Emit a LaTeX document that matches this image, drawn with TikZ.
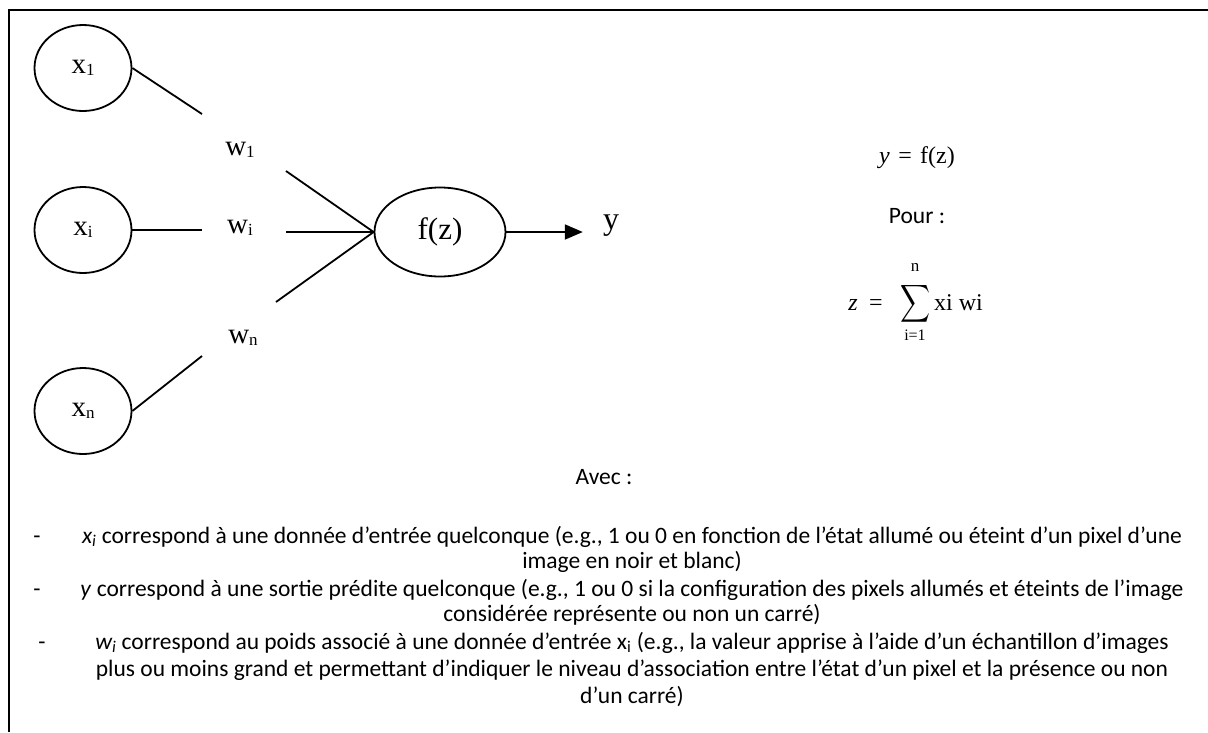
\documentclass[tikz,border=0pt]{standalone}
\usepackage{graphicx}
\usepackage{fontspec}
\setmainfont{Carlito}
\newfontfamily\tms{Liberation Serif}
\usetikzlibrary{shapes.geometric,arrows.meta}

% lowered small index used in the neuron labels
\newcommand\lowidx[1]{\raisebox{-1.5pt}{\fontsize{17}{17}\selectfont #1}}

\begin{document}
\begin{tikzpicture}[x=1pt,y=-1pt,
  neuron/.style={draw,ellipse,line width=1.8pt,inner sep=0pt,
    minimum width=97pt,minimum height=86pt,font=\tms\fontsize{29}{29}\selectfont},
  wire/.style={line width=1.8pt},
  wlabel/.style={inner sep=0pt,font=\tms\fontsize{29}{29}\selectfont},
  eq/.style={inner sep=0pt,anchor=base,font=\tms\fontsize{24}{24}\selectfont},
  body/.style={inner sep=0pt,anchor=base,font=\fontsize{23.5}{26}\selectfont},
  frame/.style={line width=2.4pt},
]
\useasboundingbox (0,0) rectangle (1208,732);

% open frame: top and left sides
\draw[frame] (1208,10) -- (9,10) -- (9,732);

% inputs
\node[neuron] (x1) at (83,68)  {x\lowidx{1}};
\node[neuron] (xi) at (83,230) {x\lowidx{i}};
\node[neuron] (xn) at (83,411) {x\lowidx{n}};

% summing unit
\node[neuron,minimum width=131pt,minimum height=89pt,font=\tms\fontsize{31}{31}\selectfont] (f) at (440,232) {f(z)};

% weights
\node[wlabel] (w1) at (240,150) {w\lowidx{1}};
\node[wlabel] (wi) at (240,228) {w\lowidx{i}};
\node[wlabel] (wn) at (243,338) {w\lowidx{n}};

% wire ends around the weight labels
\coordinate (a1) at (202,114);
\coordinate (b1) at (286,171);
\coordinate (ai) at (202,230);
\coordinate (bi) at (286,232);
\coordinate (an) at (202,356);
\coordinate (bn) at (276,302);

\draw[wire] (x1.east) -- (a1);
\draw[wire] (b1) -- (f.west);
\draw[wire] (xi.east) -- (ai);
\draw[wire] (bi) -- (f.west);
\draw[wire] (xn.east) -- (an);
\draw[wire] (bn) -- (f.west);

% output
\node[inner sep=0pt,font=\tms\fontsize{32}{32}\selectfont] (y) at (611,226) {y};
\draw[wire,-{Triangle[length=18pt,width=15pt]},shorten >=20pt] (f.east) -- (f.east -| y.west);

% equations
\node[eq] (yeq) at (917,163) {\textit{y}\hspace{0.35em}=\hspace{0.35em}f(z)};
\node[body] (pour) at (917,223) {Pour :};
\node[eq] (zv) at (853,310) {\textit{z}};
\node[eq] (zeq) at (876,310) {=};
\node[inner sep=0pt] (sig) at (915,304) {\resizebox*{30pt}{42pt}{$\displaystyle\sum$}};
\node[inner sep=0pt,font=\tms\fontsize{17}{17}\selectfont] (sup) at (915,267) {n};
\node[inner sep=0pt,font=\tms\fontsize{16}{16}\selectfont] (sub) at (915,335) {i=1};
\node[eq,anchor=base west] (xw) at (934,310) {xi wi};

% legend
\node[body] (avec) at (604,484) {Avec :};

\node[body] (d1) at (37,543) {-};
\node[body] (l1) at (632,543) {\textit{x\textsubscript{i}} correspond à une donnée d’entrée quelconque (e.g., 1 ou 0 en fonction de l’état allumé ou éteint d’un pixel d’une};
\node[body] (l2) at (632,568) {image en noir et blanc)};
\node[body] (d2) at (37,596) {-};
\node[body] (l3) at (632,596) {\textit{y} correspond à une sortie prédite quelconque (e.g., 1 ou 0 si la configuration des pixels allumés et éteints de l’image};
\node[body] (l4) at (632,621) {considérée représente ou non un carré)};
\node[body] (d3) at (42,649) {-};
\node[body] (l5) at (632,649) {\textit{w\textsubscript{i}} correspond au poids associé à une donnée d’entrée x\textsubscript{i} (e.g., la valeur apprise à l’aide d’un échantillon d’images};
\node[body] (l6) at (632,676) {plus ou moins grand et permettant d’indiquer le niveau d’association entre l’état d’un pixel et la présence ou non};
\node[body] (l7) at (632,703) {d’un carré)};
\end{tikzpicture}
\end{document}
